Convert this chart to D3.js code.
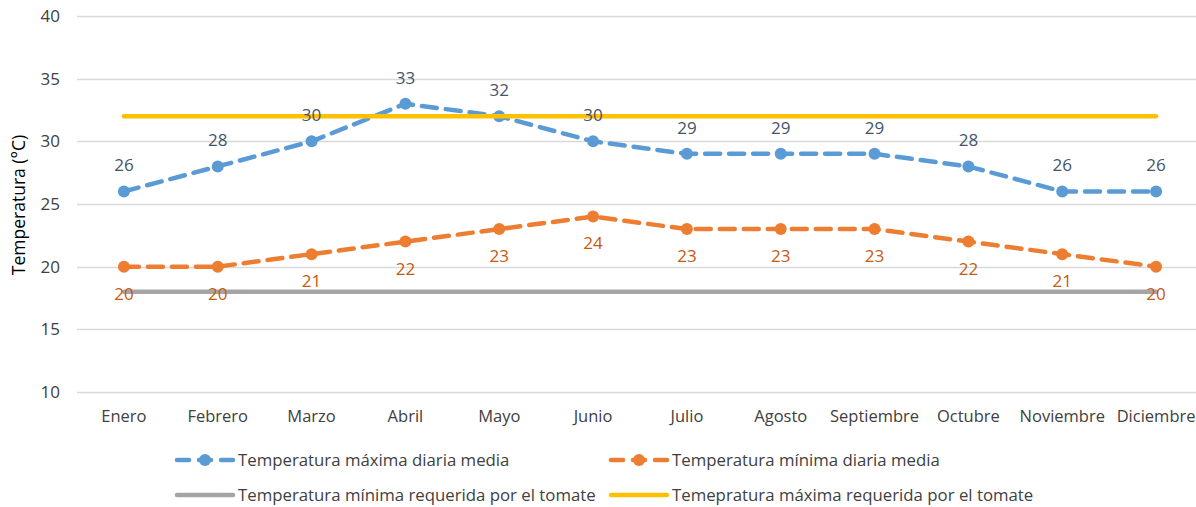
<!DOCTYPE html>
<html>
<head>
<meta charset="utf-8">
<script src="https://cdn.jsdelivr.net/npm/d3@7"></script>
<style>
  body { margin: 0; background: #fff; }
  svg { display: block; font-family: "Open Sans", "DejaVu Sans", sans-serif; }
</style>
</head>
<body>
<div id="chart"></div>
<script>
// data
const months = ["Enero", "Febrero", "Marzo", "Abril", "Mayo", "Junio", "Julio", "Agosto", "Septiembre", "Octubre", "Noviembre", "Diciembre"];
const tMaxMedia = [26, 28, 30, 33, 32, 30, 29, 29, 29, 28, 26, 26];
const tMinMedia = [20, 20, 21, 22, 23, 24, 23, 23, 23, 22, 21, 20];
const tMinTomate = [18, 18, 18, 18, 18, 18, 18, 18, 18, 18, 18, 18];
const tMaxTomate = [32, 32, 32, 32, 32, 32, 32, 32, 32, 32, 32, 32];
const yTicks = [10, 15, 20, 25, 30, 35, 40];

const seriesNames = [
  "Temperatura máxima diaria media",
  "Temperatura mínima diaria media",
  "Temperatura mínima requerida por el tomate",
  "Temepratura máxima requerida por el tomate"
];

const width = 1196, height = 507;
const margin = { top: 16, right: -7, bottom: 115, left: 77 };

const svg = d3.select("#chart").append("svg")
  .attr("width", width)
  .attr("height", height);

const x = d3.scaleBand()
  .domain(months)
  .range([margin.left, width - margin.right]);

const y = d3.scaleLinear()
  .domain([10, 40])
  .range([height - margin.bottom, margin.top]);

const cx = m => x(m) + x.bandwidth() / 2;

// gridlines
svg.append("g")
  .selectAll("line")
  .data(yTicks)
  .enter()
  .append("line")
  .attr("x1", margin.left)
  .attr("x2", width)
  .attr("y1", d => Math.round(y(d)) + 0.5)
  .attr("y2", d => Math.round(y(d)) + 0.5)
  .attr("stroke", "#d9d9d9")
  .attr("stroke-width", 1.3);

// y tick labels
svg.append("g")
  .selectAll("text")
  .data(yTicks)
  .enter()
  .append("text")
  .attr("x", 60)
  .attr("y", d => y(d))
  .attr("dy", "0.35em")
  .attr("text-anchor", "end")
  .attr("font-size", 17)
  .attr("fill", "#404040")
  .text(d => d);

// x labels
svg.append("g")
  .selectAll("text")
  .data(months)
  .enter()
  .append("text")
  .attr("x", d => cx(d))
  .attr("y", 416)
  .attr("dy", "0.35em")
  .attr("text-anchor", "middle")
  .attr("font-size", 16.5)
  .attr("fill", "#404040")
  .text(d => d);

// y title
svg.append("text")
  .attr("transform", "translate(19,205) rotate(-90)")
  .attr("text-anchor", "middle")
  .attr("dy", "0.35em")
  .attr("font-size", 17.5)
  .attr("fill", "#000")
  .text("Temperatura (°C)");

const line = d3.line()
  .x((d, i) => cx(months[i]))
  .y(d => y(d));

// series
const blue = "#5b9bd5", orange = "#ed7d31", gray = "#a5a5a5", yellow = "#ffc000";

svg.append("path")
  .datum(tMaxMedia)
  .attr("fill", "none")
  .attr("stroke", blue)
  .attr("stroke-width", 4.5)
  .attr("stroke-dasharray", "15,9")
  .attr("stroke-linecap", "round")
  .attr("d", line);

svg.append("g")
  .selectAll("circle")
  .data(tMaxMedia)
  .enter()
  .append("circle")
  .attr("cx", (d, i) => cx(months[i]))
  .attr("cy", d => y(d))
  .attr("r", 6)
  .attr("fill", blue);

svg.append("path")
  .datum(tMinMedia)
  .attr("fill", "none")
  .attr("stroke", orange)
  .attr("stroke-width", 4.5)
  .attr("stroke-dasharray", "15,9")
  .attr("stroke-linecap", "round")
  .attr("d", line);

svg.append("g")
  .selectAll("circle")
  .data(tMinMedia)
  .enter()
  .append("circle")
  .attr("cx", (d, i) => cx(months[i]))
  .attr("cy", d => y(d))
  .attr("r", 6)
  .attr("fill", orange);

svg.append("path")
  .datum(tMinTomate)
  .attr("fill", "none")
  .attr("stroke", gray)
  .attr("stroke-width", 4.5)
  .attr("stroke-linecap", "round")
  .attr("d", line);

svg.append("path")
  .datum(tMaxTomate)
  .attr("fill", "none")
  .attr("stroke", yellow)
  .attr("stroke-width", 4.5)
  .attr("stroke-linecap", "round")
  .attr("d", line);

// data labels
svg.append("g")
  .selectAll("text")
  .data(tMaxMedia)
  .enter()
  .append("text")
  .attr("x", (d, i) => cx(months[i]))
  .attr("y", d => y(d) - 26)
  .attr("dy", "0.35em")
  .attr("text-anchor", "middle")
  .attr("font-size", 17)
  .attr("fill", "#44546a")
  .text(d => d);

svg.append("g")
  .selectAll("text")
  .data(tMinMedia)
  .enter()
  .append("text")
  .attr("x", (d, i) => cx(months[i]))
  .attr("y", d => y(d) + 27)
  .attr("dy", "0.35em")
  .attr("text-anchor", "middle")
  .attr("font-size", 17)
  .attr("fill", "#c55a11")
  .text(d => d);

// legend
const legendItems = [
  { name: seriesNames[0], color: blue, dashed: true, x: 175, y: 460 },
  { name: seriesNames[1], color: orange, dashed: true, x: 609, y: 460 },
  { name: seriesNames[2], color: gray, dashed: false, x: 175, y: 495 },
  { name: seriesNames[3], color: yellow, dashed: false, x: 609, y: 495 }
];

const lg = svg.append("g")
  .selectAll("g")
  .data(legendItems)
  .enter()
  .append("g")
  .attr("transform", d => "translate(" + d.x + "," + d.y + ")");

lg.append("line")
  .attr("x1", 2)
  .attr("x2", 58)
  .attr("y1", 0)
  .attr("y2", 0)
  .attr("stroke", d => d.color)
  .attr("stroke-width", 4.5)
  .attr("stroke-linecap", "round")
  .attr("stroke-dasharray", d => d.dashed ? "12,10" : null);

lg.filter(d => d.dashed)
  .append("circle")
  .attr("cx", 30)
  .attr("cy", 0)
  .attr("r", 6)
  .attr("fill", d => d.color);

lg.append("text")
  .attr("x", 63)
  .attr("y", 0)
  .attr("dy", "0.35em")
  .attr("font-size", 16.8)
  .attr("fill", "#404040")
  .text(d => d.name);
</script>
</body>
</html>
